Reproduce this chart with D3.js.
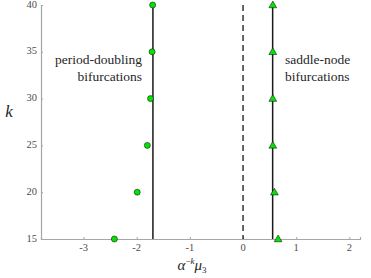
<!DOCTYPE html>
<html>
<head>
<meta charset="utf-8">
<script src="https://cdn.jsdelivr.net/npm/d3@7"></script>
<style>
  body { margin: 0; background: #fff; }
  #chart { position: relative; width: 371px; height: 278px; }
  svg { display: block; }
  .lbl {
    position: absolute;
    white-space: nowrap;
    font-family: 'Liberation Serif';
    line-height: 1;
    color: #262626;
  }
  .tick-lbl { color: #4d4d4d; }
  .sup { font-size: 9px; position: relative; top: -6px; }
  .sub { font-size: 9px; font-style: normal; position: relative; top: 3px; }
</style>
</head>
<body>
<div id="chart"></div>
<script>
// data
const kValues = [15, 20, 25, 30, 35, 40];
const periodDoubling = [-2.42, -1.99, -1.80, -1.74, -1.71, -1.70];
const saddleNode = [0.66, 0.59, 0.56, 0.56, 0.56, 0.56];
const pdLimit = -1.695;
const snLimit = 0.557;
const xTicks = [-3, -2, -1, 0, 1, 2];
const yTicks = [15, 20, 25, 30, 35, 40];

const width = 371, height = 278;
const margin = { left: 41, right: 11, top: 5, bottom: 39 };

const chart = d3.select("#chart");
const svg = chart.append("svg")
    .attr("width", width)
    .attr("height", height);

const x = d3.scaleLinear().domain([-3.8, 2.2]).range([margin.left, width - margin.right]);
const y = d3.scaleLinear().domain([15, 40]).range([height - margin.bottom, margin.top]);

// html text placed by baseline; anchor = start | middle | end
function addLabel(px, baseline, html, size, anchor, cls) {
    const shift = anchor === "middle" ? "-50%" : anchor === "end" ? "-100%" : "0";
    return chart.append("div")
        .attr("class", "lbl " + (cls || ""))
        .style("left", px + "px")
        .style("top", (baseline - 0.84 * size) + "px")
        .style("font-size", size + "px")
        .style("transform", `translateX(${shift})`)
        .html(html);
}

// axes (ticks pointing inward), labels drawn as html below
const xAxis = svg.append("g")
    .attr("transform", `translate(0,${y(15)})`)
    .call(d3.axisBottom(x).tickValues(xTicks).tickSize(-2).tickFormat(""));
const yAxis = svg.append("g")
    .attr("transform", `translate(${x(-3.8)},0)`)
    .call(d3.axisLeft(y).tickValues(yTicks).tickSize(-2).tickFormat(""));

[xAxis, yAxis].forEach(g => {
    g.select(".domain").attr("stroke", "#a6a6a6").attr("stroke-width", 1.2);
    g.selectAll(".tick line").attr("stroke", "#a6a6a6");
});

xTicks.forEach(t => addLabel(x(t), y(15) + 13, t < 0 ? "-" + Math.abs(t) : t, 10.5, "middle", "tick-lbl"));
yTicks.forEach(t => addLabel(x(-3.8) - 4, y(t) + 3.5, t, 10.5, "end", "tick-lbl"));

// dashed zero line
svg.append("line")
    .attr("x1", x(0)).attr("x2", x(0))
    .attr("y1", y(40)).attr("y2", y(15))
    .attr("stroke", "#000")
    .attr("stroke-width", 1.2)
    .attr("stroke-dasharray", "6,4");

// limit lines
[pdLimit, snLimit].forEach(v => {
    svg.append("line")
        .attr("x1", x(v)).attr("x2", x(v))
        .attr("y1", y(40)).attr("y2", y(15))
        .attr("stroke", "#1a1a1a")
        .attr("stroke-width", 1.5);
});

// period-doubling circles
svg.append("g")
    .selectAll("circle")
    .data(kValues.map((k, i) => ({ k, v: periodDoubling[i] })))
    .enter().append("circle")
    .attr("cx", d => x(d.v))
    .attr("cy", d => y(d.k))
    .attr("r", 3)
    .attr("fill", "#00e600")
    .attr("stroke", "#1a1a1a")
    .attr("stroke-width", 0.6);

// saddle-node triangles
const tri = d3.symbol().type(d3.symbolTriangle).size(26);
svg.append("g")
    .selectAll("path")
    .data(kValues.map((k, i) => ({ k, v: saddleNode[i] })))
    .enter().append("path")
    .attr("d", tri)
    .attr("transform", d => `translate(${x(d.v)},${y(d.k) + 0.5})`)
    .attr("fill", "#00e600")
    .attr("stroke", "#1a1a1a")
    .attr("stroke-width", 0.6);

// annotations
addLabel(142, 64, "period-doubling", 13.5, "end");
addLabel(142, 81, "bifurcations", 13.5, "end");
addLabel(285, 64, "saddle-node", 13.5, "start");
addLabel(285, 81, "bifurcations", 13.5, "start");

// axis labels
addLabel(9, 117, "<i>k</i>", 17, "middle");
addLabel(192, 271,
    "<i>α</i><span class='sup'>−<i>k</i></span><i>μ</i><span class='sub'>3</span>",
    15, "middle");
</script>
</body>
</html>
